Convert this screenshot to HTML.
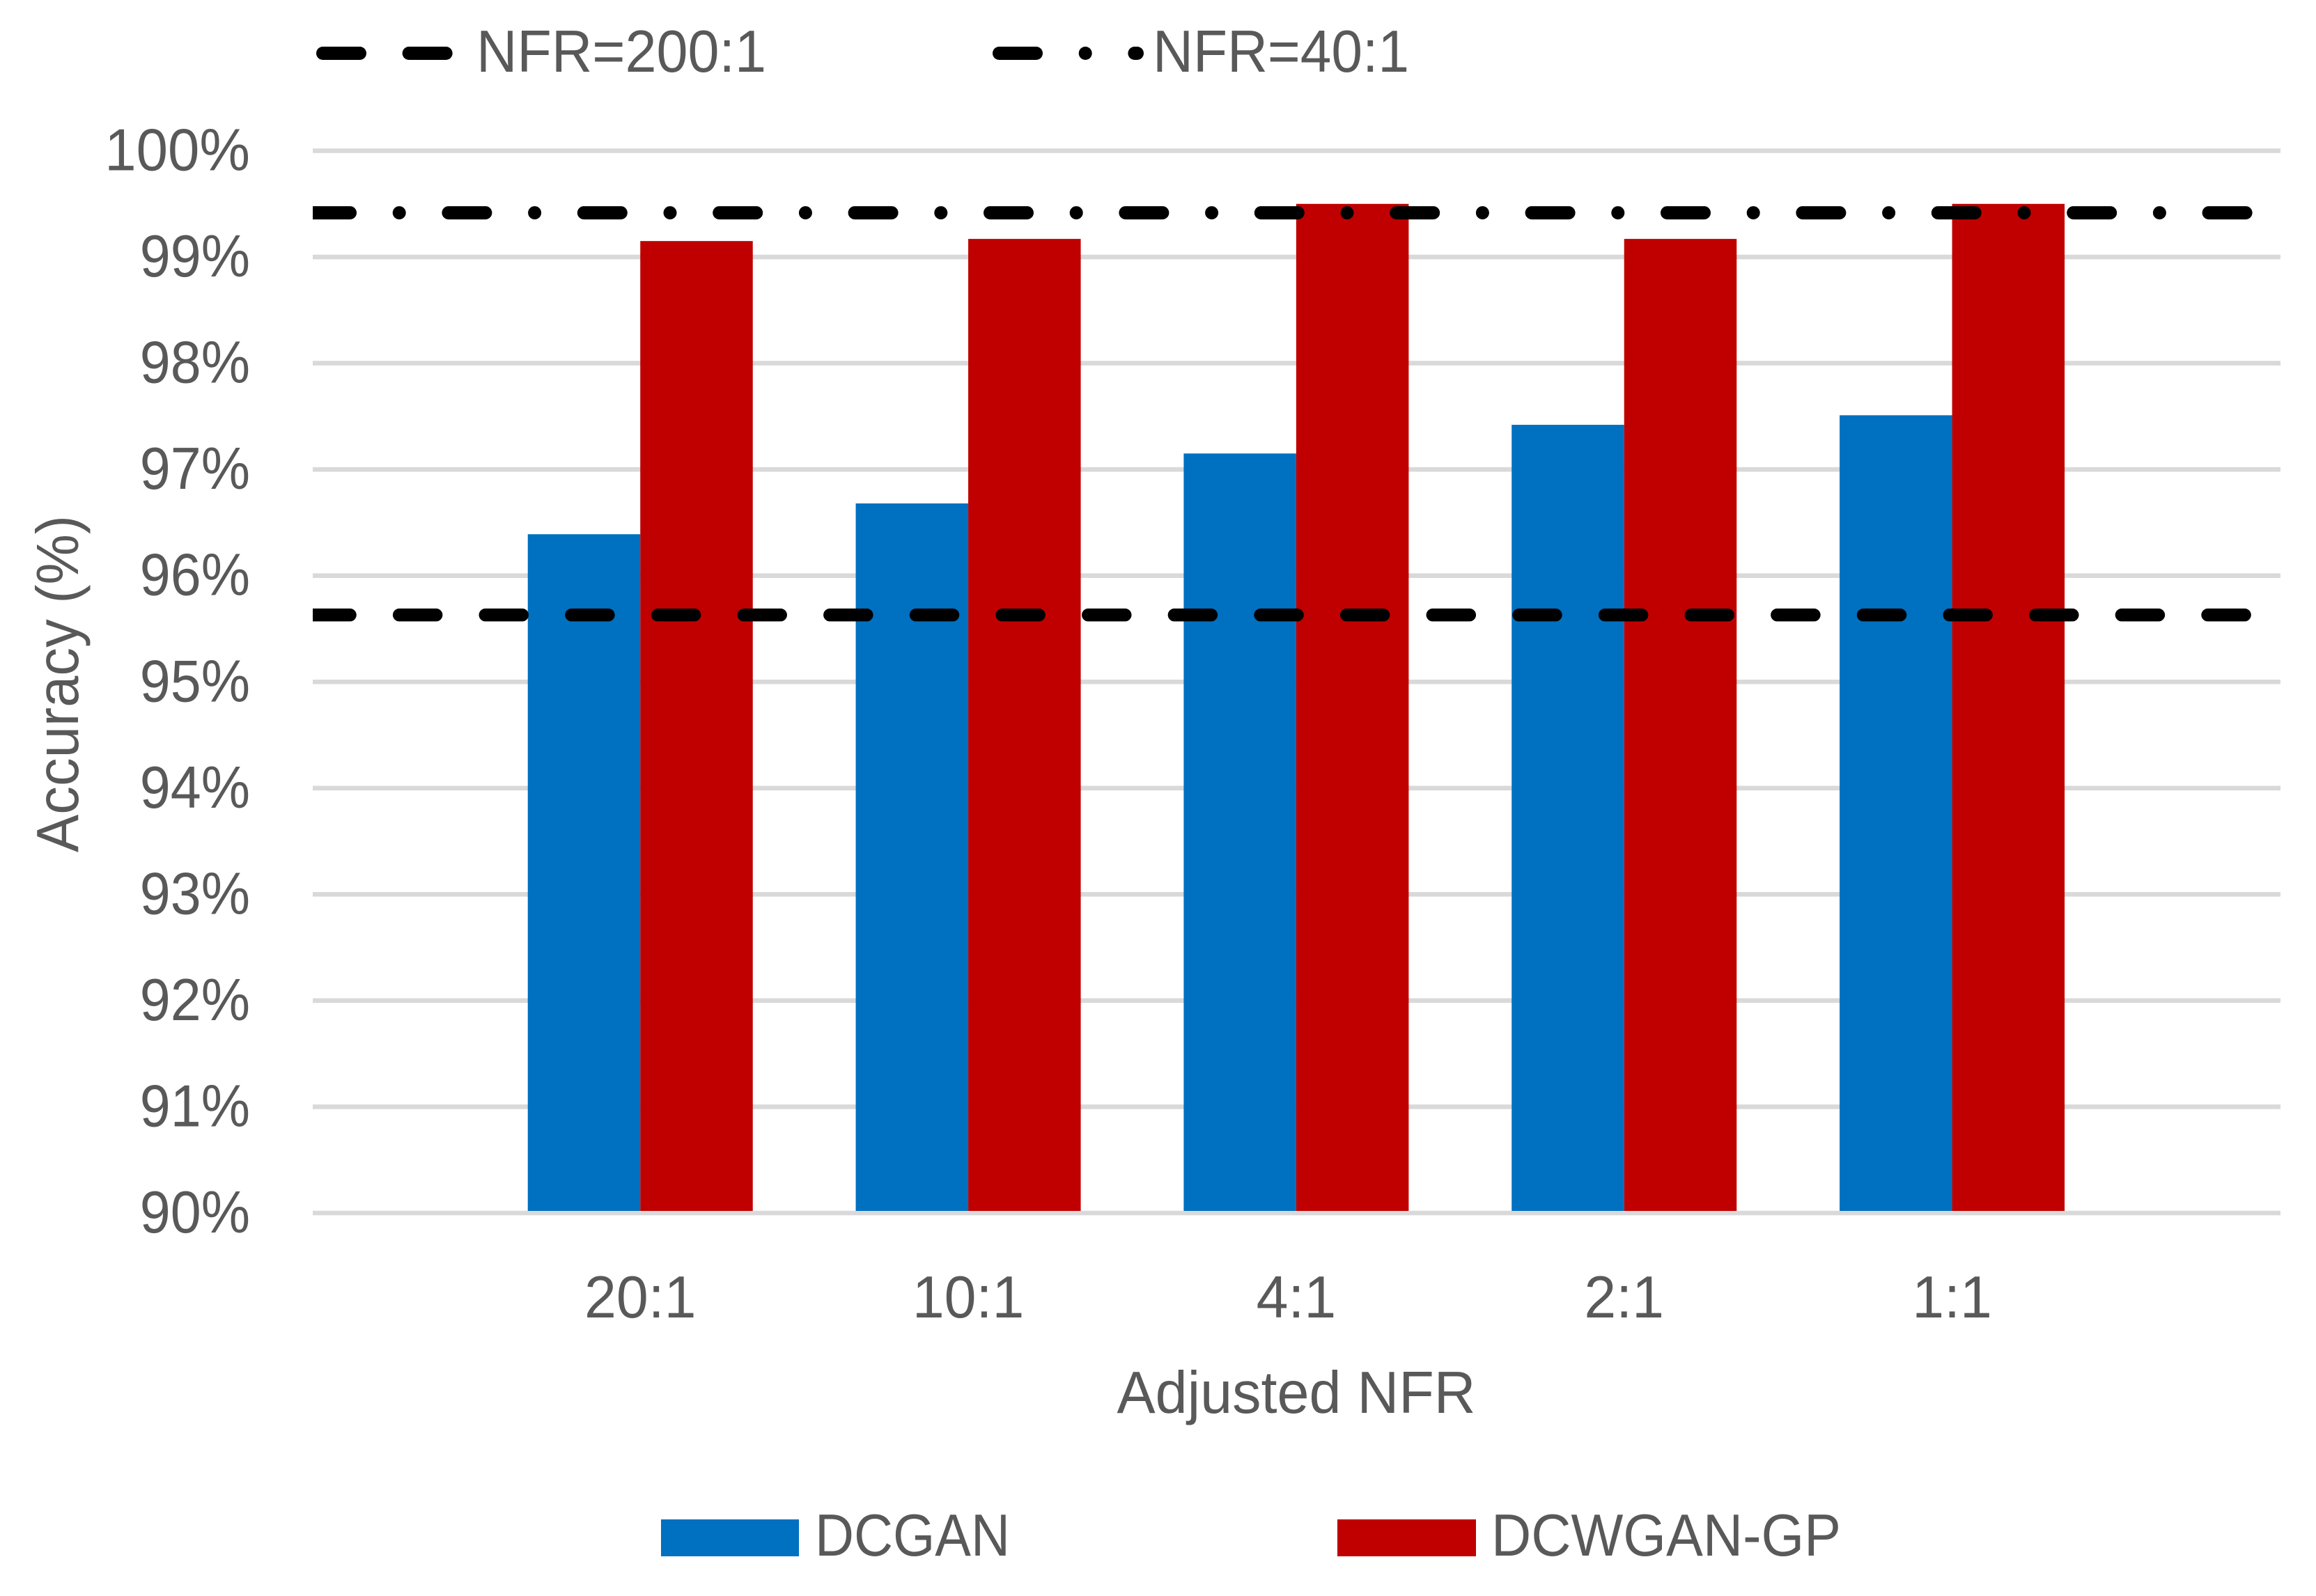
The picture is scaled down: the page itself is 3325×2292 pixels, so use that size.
<!DOCTYPE html>
<html lang="en">
<head>
<meta charset="utf-8">
<title>Accuracy vs Adjusted NFR</title>
<style>
html,body{margin:0;padding:0;background:#fff;width:3325px;height:2292px;overflow:hidden}
svg{display:block}
text{font-family:"Liberation Sans",sans-serif;font-size:85px;fill:#595959}
</style>
</head>
<body>
<svg id="chart" xmlns="http://www.w3.org/2000/svg" width="3325" height="2292" viewBox="0 0 3325 2292"></svg>
<script>
const categories = ["20:1", "10:1", "4:1", "2:1", "1:1"];
const dcganValues = [96.39, 96.68, 97.15, 97.42, 97.51];
const dcwganValues = [99.15, 99.17, 99.50, 99.17, 99.50];
const yTicks = [90, 91, 92, 93, 94, 95, 96, 97, 98, 99, 100];
const nfr200Value = 95.63;
const nfr40Value = 99.416;

const NS = "http://www.w3.org/2000/svg";
const svg = document.getElementById("chart");
const plotLeft = 449, plotRight = 3274;
const yMin = 90, yMax = 100, yTop = 216.5, yBottom = 1742;
const slots = categories.length + 2;
const slotWidth = (plotRight - plotLeft) / (slots - 1);
const barWidth = 161.5;
const barBase = yBottom - 3;
function yScale(v) { return yBottom - (v - yMin) / (yMax - yMin) * (yBottom - yTop); }
function xCenter(i) { return plotLeft + (i + 1) * slotWidth - 0.6; }
function make(tag, attrs, parent) {
  const el = document.createElementNS(NS, tag);
  for (const k in attrs) el.setAttribute(k, attrs[k]);
  (parent || svg).appendChild(el);
  return el;
}
function label(str, x, y, anchor, length, parent) {
  const el = make("text", { x: x, y: y, "text-anchor": anchor }, parent);
  el.textContent = str;
  if (length) {
    el.setAttribute("textLength", length);
    el.setAttribute("lengthAdjust", "spacingAndGlyphs");
  }
  return el;
}
function condensed(el, factor) {
  const w = el.getComputedTextLength();
  el.setAttribute("textLength", (w * factor).toFixed(1));
  el.setAttribute("lengthAdjust", "spacingAndGlyphs");
}

/* gridlines and y tick labels */
yTicks.forEach(function (t) {
  const line = make("line", { x1: plotLeft, x2: plotRight, y1: yScale(t), y2: yScale(t), stroke: "#D9D9D9", "stroke-width": 6.6 });
  
  
  const tl = label(t + "%", 359, yScale(t) + 28, "end");
  
  
  condensed(tl, t === 100 ? 0.96 : 0.93);
});

/* bars */
categories.forEach(function (c, i) {
  const cx = xCenter(i);
  const b1 = make("rect", { x: cx - barWidth, y: yScale(dcganValues[i]), width: barWidth, height: barBase - yScale(dcganValues[i]), fill: "#0070C0" });
  
  
  const b2 = make("rect", { x: cx, y: yScale(dcwganValues[i]), width: barWidth, height: barBase - yScale(dcwganValues[i]), fill: "#C00000" });
  
  
  const tl = label(c, cx, 1892, "middle");
  
  
  condensed(tl, 0.97);
});

/* reference lines */
const dash200 = "53 70.64";
const dash40 = "53 70.7 0.01 70.69";
const line200 = make("line", { x1: 449.5, x2: plotRight, y1: yScale(nfr200Value), y2: yScale(nfr200Value), stroke: "#000", "stroke-width": 18.5, "stroke-linecap": "round", "stroke-dasharray": dash200, "clip-path": "url(#plot-clip)" });


const line40 = make("line", { x1: 449.5, x2: plotRight, y1: yScale(nfr40Value), y2: yScale(nfr40Value), stroke: "#000", "stroke-width": 19, "stroke-linecap": "round", "stroke-dasharray": dash40, "clip-path": "url(#plot-clip)" });


const defs = make("defs", {});
const clip = make("clipPath", { id: "plot-clip" }, defs);
make("rect", { x: plotLeft, y: 0, width: plotRight - plotLeft, height: 2292 }, clip);

/* top legend */
const lg1 = make("g", {});


make("line", { x1: 463.5, x2: 640.5, y1: 76.5, y2: 76.5, stroke: "#000", "stroke-width": 19, "stroke-linecap": "round", "stroke-dasharray": dash200 }, lg1);
label("NFR=200:1", 684, 103, "start", 416, lg1);

const lg2 = make("g", {});


make("line", { x1: 1434.5, x2: 1632.5, y1: 76.5, y2: 76.5, stroke: "#000", "stroke-width": 19, "stroke-linecap": "round", "stroke-dasharray": dash40 }, lg2);
label("NFR=40:1", 1655, 103, "start", 368, lg2);

/* bottom legend */
const lg3 = make("g", {});


make("rect", { x: 949, y: 2182, width: 198, height: 53, fill: "#0070C0" }, lg3);
label("DCGAN", 1170, 2234, "start", 280, lg3);

const lg4 = make("g", {});


make("rect", { x: 1920, y: 2182, width: 199, height: 53, fill: "#C00000" }, lg4);
label("DCWGAN-GP", 2141, 2234, "start", 502, lg4);

/* axis titles */
const xTitle = label("Adjusted NFR", 1861, 2029, "middle", 515);


const yTitle = label("Accuracy (%)", 0, 0, "middle", 484);
yTitle.setAttribute("transform", "translate(112 982) rotate(-90)");


</script>
</body>
</html>
